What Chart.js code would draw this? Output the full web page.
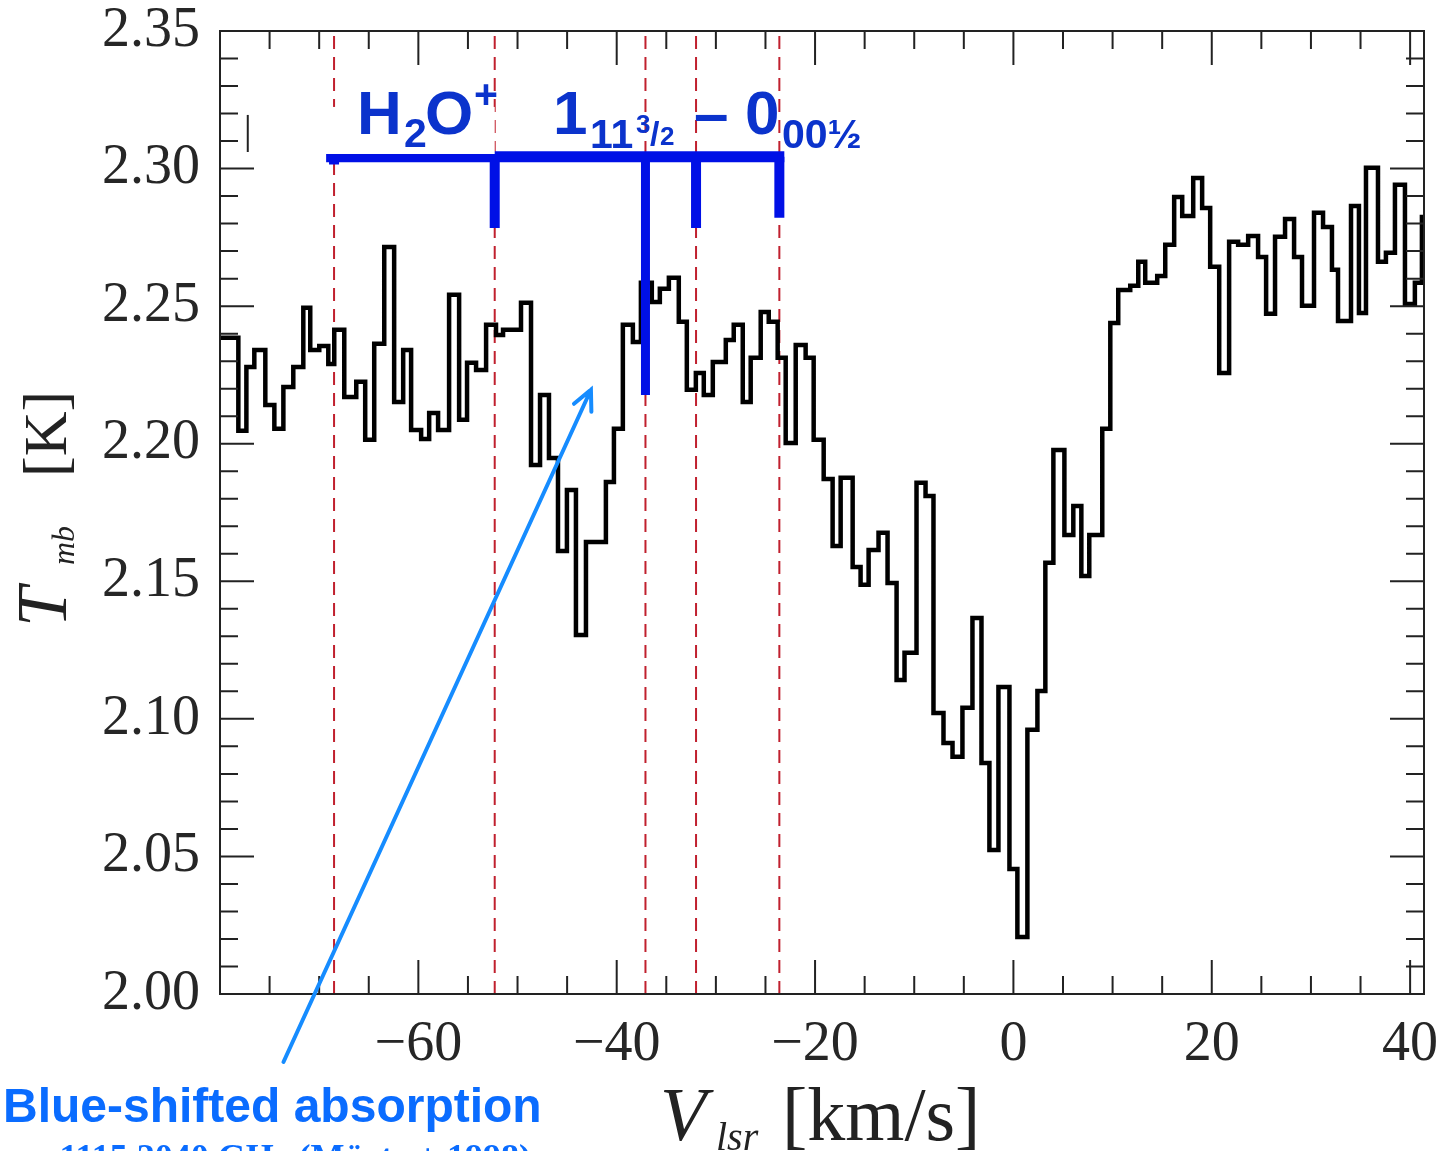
<!DOCTYPE html>
<html>
<head>
<meta charset="utf-8">
<script src="https://cdn.jsdelivr.net/npm/chart.js@4.4.1/dist/chart.umd.min.js"></script>
<style>
  html, body { margin: 0; padding: 0; background: #fff; }
</style>
</head>
<body>
<canvas id="spec" width="1445" height="1151"></canvas>
<script>
// spectrum channels: start velocity of each step (km/s) and Tmb (K)
const velocity = [
  -80.0, -78.15, -77.34, -76.54, -75.43, -74.52, -73.61, -72.61, -71.60, -70.90,
  -69.99, -69.08, -68.48, -67.47, -66.26, -65.36, -64.45, -63.44, -62.44, -61.53,
  -60.73, -59.72, -58.91, -58.01, -56.90, -55.89, -55.09, -54.18, -53.17, -52.17,
  -51.46, -49.65, -48.64, -47.73, -46.83, -45.92, -45.02, -44.11, -43.10, -41.09,
  -40.28, -39.38, -38.37, -37.56, -36.46, -35.65, -34.74, -33.74, -32.93, -32.02,
  -31.22, -30.31, -29.00, -28.20, -27.29, -26.49, -25.48, -24.67, -23.77, -22.96,
  -21.95, -20.95, -20.14, -19.13, -18.23, -17.42, -16.21, -15.41, -14.60, -13.60,
  -12.69, -11.78, -10.98, -9.77, -8.86, -8.06, -7.05, -6.14, -5.14, -4.13,
  -3.22, -2.42, -1.51, -0.40, 0.40, 1.41, 2.42, 3.22, 4.03, 5.14,
  6.04, 6.85, 7.65, 8.96, 9.77, 10.57, 11.78, 12.59, 13.29, 14.50,
  15.31, 16.21, 17.02, 18.13, 19.03, 19.84, 20.75, 21.75, 22.66, 23.67,
  24.67, 25.48, 26.38, 27.39, 28.30, 29.10, 30.31, 31.22, 32.12, 32.73,
  34.04, 34.84, 35.55, 36.76, 37.56, 38.47, 39.48, 40.48, 41.19, 41.40
];
const tmb = [
  2.2385, 2.2047, 2.2279, 2.2341, 2.2141, 2.2054, 2.2206, 2.2279, 2.2494, 2.2341,
  2.2355, 2.2290, 2.2414, 2.2170, 2.2225, 2.2014, 2.2363, 2.2715, 2.2152, 2.2341,
  2.2050, 2.2017, 2.2112, 2.2050, 2.2541, 2.2087, 2.2294, 2.2268, 2.2432, 2.2395,
  2.2414, 2.2512, 2.1923, 2.2177, 2.1948, 2.1610, 2.1832, 2.1305, 2.1643, 2.1861,
  2.2054, 2.2432, 2.2370, 2.2585, 2.2515, 2.2563, 2.2603, 2.2443, 2.2196, 2.2257,
  2.2177, 2.2297, 2.2377, 2.2432, 2.2152, 2.2312, 2.2479, 2.2443, 2.2312, 2.2003,
  2.2359, 2.2312, 2.2014, 2.1872, 2.1628, 2.1876, 2.1552, 2.1487, 2.1614, 2.1676,
  2.1494, 2.1141, 2.1240, 2.1858, 2.1810, 2.1021, 2.0912, 2.0862, 2.1040, 2.1367,
  2.0840, 2.0523, 2.1116, 2.0454, 2.0207, 2.0960, 2.1101, 2.1567, 2.1977, 2.1668,
  2.1774, 2.1519, 2.1668, 2.2054, 2.2439, 2.2559, 2.2574, 2.2661, 2.2585, 2.2610,
  2.2723, 2.2897, 2.2828, 2.2966, 2.2857, 2.2643, 2.2257, 2.2734, 2.2723, 2.2755,
  2.2679, 2.2472, 2.2752, 2.2817, 2.2679, 2.2501, 2.2839, 2.2788, 2.2632, 2.2446,
  2.2864, 2.2475, 2.3003, 2.2661, 2.2694, 2.2941, 2.2508, 2.2585, 2.2824, 2.2824
];

const xTickLabels = [-60, -40, -20, 0, 20, 40];
const yTickLabels = [2.00, 2.05, 2.10, 2.15, 2.20, 2.25, 2.30, 2.35];

// hyperfine components of H2O+ 1(1,1,3/2)-0(0,0,1/2)
const hfsVelocity = [-68.5, -52.3, -37.1, -32.0, -23.6];
const hfsTickEnd = [2.3015, 2.2784, 2.2177, 2.2784, 2.2821];
const combLevel = 2.3043;
const combSpan = [-69.3, -23.1];

// annotation arrow, tail -> head, in (km/s, K)
const arrowTail = [-73.6, 1.9753];
const arrowHead = [-42.6, 2.2196];

const TICK_FONT = 'Liberation Serif';
const BLUE_TXT = '#0b33cc';
const BLUE_COMB = '#0010e6';
const BLUE_NOTE = '#0a6cff';

const datasets = [];

// comb bar + ticks (on top)
datasets.push({
  data: [{ x: combSpan[0], y: combLevel }, { x: combSpan[1], y: combLevel }],
  borderColor: BLUE_COMB, borderWidth: 11, borderCapStyle: 'butt', pointRadius: 0, order: 0
});
hfsVelocity.forEach((v, i) => {
  datasets.push({
    data: [{ x: v, y: combLevel }, { x: v, y: hfsTickEnd[i] }],
    borderColor: BLUE_COMB, borderWidth: i === 2 ? 9 : 10, borderCapStyle: 'butt', pointRadius: 0, order: 0
  });
});

// spectrum
datasets.push({
  data: velocity.map((v, i) => ({ x: v, y: tmb[i] })),
  stepped: 'before',
  borderColor: '#000', borderWidth: 4.5, pointRadius: 0, order: 1
});

// red dashed component markers
hfsVelocity.forEach(v => {
  datasets.push({
    data: [{ x: v, y: 2.0 }, { x: v, y: 2.35 }],
    borderColor: '#c0202e', borderWidth: 2, borderDash: [13, 8], pointRadius: 0, order: 2
  });
});

function txt(ctx, s, x, y, font, color) {
  ctx.font = font;
  ctx.fillStyle = color;
  ctx.fillText(s, x, y);
}

const decor = {
  id: 'decor',
  beforeDraw(chart) {
    const ctx = chart.ctx;
    ctx.save();
    ctx.fillStyle = '#fff';
    ctx.fillRect(0, 0, chart.width, chart.height);
    ctx.restore();
  },
  afterDatasetsDraw(chart) {
    const { ctx, chartArea: a, scales: { x, y } } = chart;
    ctx.save();

    // frame with inward ticks on all four sides
    ctx.strokeStyle = '#222';
    ctx.lineWidth = 2;
    ctx.strokeRect(a.left, a.top, a.right - a.left, a.bottom - a.top);
    ctx.beginPath();
    for (let v = -75; v <= 40; v += 5) {
      const px = x.getPixelForValue(v);
      const len = xTickLabels.includes(v) ? 34 : 18;
      ctx.moveTo(px, a.bottom); ctx.lineTo(px, a.bottom - len);
      ctx.moveTo(px, a.top); ctx.lineTo(px, a.top + len);
    }
    for (let i = 1; i < 35; i++) {
      const py = y.getPixelForValue(2 + i * 0.01);
      const len = i % 5 === 0 ? 34 : 18;
      ctx.moveTo(a.left, py); ctx.lineTo(a.left + len, py);
      ctx.moveTo(a.right, py); ctx.lineTo(a.right - len, py);
    }
    ctx.stroke();

    // white label patch behind the transition name
    const bx0 = x.getPixelForValue(-77.2), bx1 = x.getPixelForValue(-52.3);
    const by0 = y.getPixelForValue(2.3224), by1 = y.getPixelForValue(2.3053);
    ctx.fillStyle = '#fff';
    ctx.fillRect(bx0, by0, bx1 - bx0, by1 - by0);
    ctx.beginPath();
    ctx.lineWidth = 2;
    ctx.moveTo(bx0, by0 + 8); ctx.lineTo(bx0, by1 - 2);
    ctx.stroke();

    // transition name
    ctx.textBaseline = 'alphabetic';
    ctx.textAlign = 'left';
    const big = 'bold 62px "Liberation Sans"';
    const sub = 'bold 41px "Liberation Sans"';
    txt(ctx, 'H', 357, 134, big, BLUE_TXT);
    txt(ctx, '2', 404, 147, sub, BLUE_TXT);
    txt(ctx, 'O', 425, 134, big, BLUE_TXT);
    txt(ctx, '+', 474, 108, sub, BLUE_TXT);
    txt(ctx, '1', 553, 134, big, BLUE_TXT);
    txt(ctx, '11', 590, 148, sub, BLUE_TXT);
    txt(ctx, '3', 636, 133, 'bold 26px "Liberation Sans"', BLUE_TXT);
    txt(ctx, '/', 650, 145, 'bold 34px "Liberation Sans"', BLUE_TXT);
    txt(ctx, '2', 660, 145, 'bold 26px "Liberation Sans"', BLUE_TXT);
    txt(ctx, '\u2013', 694, 134, big, BLUE_TXT);
    txt(ctx, '0', 745, 134, big, BLUE_TXT);
    txt(ctx, '00\u00bd', 782, 148, sub, BLUE_TXT);

    // arrow
    const tx = x.getPixelForValue(arrowTail[0]), ty = y.getPixelForValue(arrowTail[1]);
    const hx = x.getPixelForValue(arrowHead[0]), hy = y.getPixelForValue(arrowHead[1]);
    const ang = Math.atan2(hy - ty, hx - tx);
    ctx.strokeStyle = '#168cff';
    ctx.lineWidth = 4;
    ctx.lineCap = 'round';
    ctx.beginPath();
    ctx.moveTo(tx, ty); ctx.lineTo(hx, hy);
    ctx.moveTo(hx - 22 * Math.cos(ang - 0.45), hy - 22 * Math.sin(ang - 0.45));
    ctx.lineTo(hx, hy);
    ctx.lineTo(hx - 22 * Math.cos(ang + 0.45), hy - 22 * Math.sin(ang + 0.45));
    ctx.stroke();

    // axis titles
    const axc = '#222';
    txt(ctx, 'V', 660, 1140, 'italic 76px "Liberation Serif"', axc);
    txt(ctx, 'lsr', 716, 1150, 'italic 40px "Liberation Serif"', axc);
    txt(ctx, '[km/s]', 782, 1140, '76px "Liberation Serif"', axc);

    ctx.save();
    ctx.translate(66, 627);
    ctx.rotate(-Math.PI / 2);
    txt(ctx, 'T', 0, 0, 'italic 72px "Liberation Serif"', axc);
    txt(ctx, 'mb', 62, 8, 'italic 32px "Liberation Serif"', axc);
    txt(ctx, '[K]', 150, 0, '62px "Liberation Serif"', axc);
    ctx.restore();

    // notes under the plot
    txt(ctx, 'Blue-shifted absorption', 3, 1122, 'bold 48px "Liberation Sans"', BLUE_NOTE);
    txt(ctx, '\u03bd = 1115.2040 GHz (M\u00fcrtz + 1998)', 5, 1169, 'bold 36px "Liberation Serif"', BLUE_NOTE);

    ctx.restore();
  }
};

new Chart(document.getElementById('spec'), {
  type: 'line',
  data: { datasets: datasets },
  options: {
    responsive: false,
    animation: false,
    layout: { padding: { left: 0, right: 21, top: 31, bottom: 0 } },
    plugins: { legend: { display: false }, tooltip: { enabled: false } },
    scales: {
      x: {
        type: 'linear',
        min: -80,
        max: 41.4,
        grid: { display: false },
        border: { display: false },
        afterBuildTicks: s => { s.ticks = xTickLabels.map(v => ({ value: v })); },
        afterFit: s => { s.height = 157; s.paddingLeft = 0; s.paddingRight = 0; },
        ticks: {
          padding: 10,
          color: '#262626',
          font: { family: TICK_FONT, size: 56 },
          callback: v => (v < 0 ? '\u2212' + Math.abs(v) : String(v))
        }
      },
      y: {
        type: 'linear',
        min: 2.0,
        max: 2.35,
        grid: { display: false },
        border: { display: false },
        afterBuildTicks: s => { s.ticks = yTickLabels.map(v => ({ value: v })); },
        afterFit: s => { s.width = 220; s.paddingTop = 0; s.paddingBottom = 0; },
        ticks: {
          padding: 12,
          color: '#262626',
          font: { family: TICK_FONT, size: 56 },
          callback: v => Number(v).toFixed(2)
        }
      }
    }
  },
  plugins: [decor]
});
</script>
</body>
</html>
